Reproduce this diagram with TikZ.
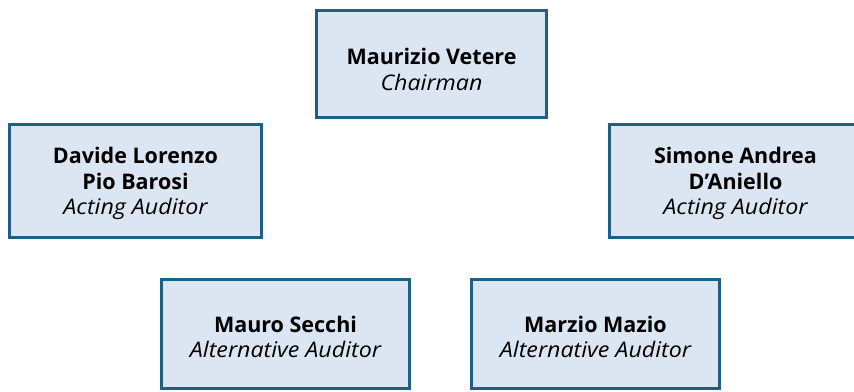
\documentclass[tikz,border=0pt]{standalone}
\usepackage{fontspec}
\setmainfont{Open Sans}
\newfontfamily\roleface[FakeStretch=1.08]{Open Sans}
\definecolor{boxborder}{HTML}{1D6086}
\definecolor{boxfill}{HTML}{DCE6F2}
\newcommand{\pname}[1]{\textbf{#1}}
\newcommand{\prole}[1]{{\roleface\itshape #1}}
\newcommand{\drop}[1]{\rule{0pt}{#1}}
\begin{document}
\begin{tikzpicture}[x=1pt,y=-1pt,
  person/.style={draw=boxborder, fill=boxfill, line width=3.2pt, inner sep=0pt,
    align=center, font=\fontsize{21.5}{25.5}\selectfont, text=black}]
\useasboundingbox (0,0) rectangle (854,391);
\node[person, minimum width=230, minimum height=107] (chair) at (431.5,64)
  {\drop{27pt}\pname{Maurizio Vetere}\\\prole{Chairman}};
\node[person, minimum width=252, minimum height=113] (acting1) at (135.5,181)
  {\drop{22pt}\pname{Davide Lorenzo}\\\pname{Pio Barosi}\\\prole{Acting Auditor}};
\node[person, minimum width=252, minimum height=113] (acting2) at (735.5,181)
  {\drop{22pt}\pname{Simone Andrea}\\\pname{D’Aniello}\\\prole{Acting Auditor}};
\node[person, minimum width=248, minimum height=109] (alt1) at (285.5,334)
  {\drop{22pt}\pname{Mauro Secchi}\\\prole{Alternative Auditor}};
\node[person, minimum width=248, minimum height=109] (alt2) at (595.5,334)
  {\drop{22pt}\pname{Marzio Mazio}\\\prole{Alternative Auditor}};
\end{tikzpicture}
\end{document}
